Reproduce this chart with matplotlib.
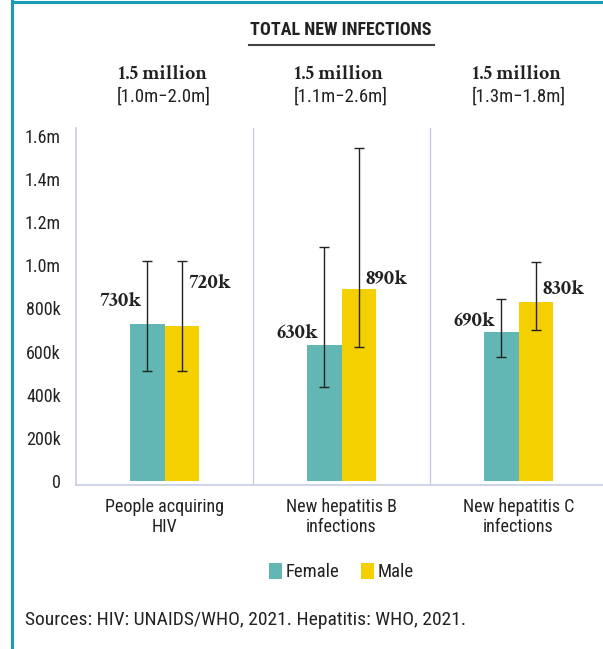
import matplotlib
matplotlib.use("Agg")
import matplotlib.pyplot as plt
import numpy as np
from matplotlib.lines import Line2D
from matplotlib.patches import Rectangle
from matplotlib import font_manager as fm
from matplotlib.font_manager import FontProperties

categories = ["People acquiring\nHIV", "New hepatitis B\ninfections", "New hepatitis C\ninfections"]
female = [730000, 630000, 690000]
male = [720000, 890000, 830000]
female_low = [510000, 435000, 575000]
female_high = [1020000, 1085000, 842000]
male_low = [510000, 623000, 698000]
male_high = [1020000, 1545000, 1015000]
female_labels = ["730k", "630k", "690k"]
male_labels = ["720k", "890k", "830k"]
totals = ["1.5 million", "1.5 million", "1.5 million"]
ranges = ["[1.0m\u22122.0m]", "[1.1m\u22122.6m]", "[1.3m\u22121.8m]"]
yticks = [0, 200000, 400000, 600000, 800000, 1000000, 1200000, 1400000, 1600000]
ytick_labels = ["0", "200k", "400k", "600k", "800k", "1.0m", "1.2m", "1.4m", "1.6m"]

TEAL = "#62b6b3"
YELLOW = "#f5d000"
GRID = "#c7cde0"
BORDER = "#1a9bb5"
TXT = "#222222"
COND = ["Roboto Condensed", "DejaVu Sans"]


def _w(v):
    if isinstance(v, (int, float)):
        return v
    return fm.weight_dict.get(v, 400)


def find_font(names, weight):
    for n in names:
        cands = [f for f in fm.fontManager.ttflist if f.name == n]
        if not cands:
            continue
        best = min(cands, key=lambda f: abs(_w(f.weight) - weight))
        if abs(_w(best.weight) - weight) <= 100:
            return best.fname
    return None


serif_path = find_font(["Merriweather", "Gelasio", "Crimson Text", "Alegreya", "DejaVu Serif"], 700)


def serif(size):
    if serif_path:
        return FontProperties(fname=serif_path, size=size)
    return FontProperties(family="DejaVu Serif", weight="bold", size=size)


W, H = 603, 649
fig = plt.figure(figsize=(W / 100, H / 100), dpi=100)


def fx(px):
    return px / W


def fy(py):
    return 1 - py / H


ax_left, ax_right, ax_top, ax_bot = 76, 607, 128, 485
ax = fig.add_axes([fx(ax_left), fy(ax_bot), fx(ax_right - ax_left), (ax_bot - ax_top) / H])

x = np.arange(len(categories))
bw = 0.195
ax.bar(x - bw / 2, female, width=bw, color=TEAL, zorder=2)
ax.bar(x + bw / 2, male, width=bw, color=YELLOW, zorder=2)

f = np.array(female); m = np.array(male)
ax.errorbar(x - bw / 2, f, yerr=[f - np.array(female_low), np.array(female_high) - f],
            fmt="none", ecolor="#222222", elinewidth=1.0, capsize=3.5, capthick=1.0, zorder=3)
ax.errorbar(x + bw / 2, m, yerr=[m - np.array(male_low), np.array(male_high) - m],
            fmt="none", ecolor="#222222", elinewidth=1.0, capsize=3.5, capthick=1.0, zorder=3)

ax.set_xlim(-0.5, 2.5)
ax.set_ylim(-19000, 1637000)
ax.set_yticks(yticks)
ax.set_yticklabels(ytick_labels, family=COND, fontsize=13, color=TXT)
ax.set_xticks(x)
ax.set_xticklabels(categories, family=COND, fontsize=13, color=TXT, linespacing=1.2)
ax.tick_params(axis="x", length=0, pad=9)
ax.tick_params(axis="y", length=0, pad=11)
for s in ["top", "right"]:
    ax.spines[s].set_visible(False)
for s in ["left", "bottom"]:
    ax.spines[s].set_color(GRID)
    ax.spines[s].set_linewidth(1.2)
for sep in [0.5, 1.5]:
    ax.axvline(sep, color=GRID, lw=1.0, zorder=1)

# value labels (offsets in points, style only)
f_dy = [16.5, 8.6, 8.0]
m_dy = [31.0, 7.6, 9.4]
for i in range(3):
    ax.annotate(female_labels[i], (x[i] - bw / 2, female[i]), xytext=(-4.5, f_dy[i]),
                textcoords="offset points", ha="right", va="center",
                fontproperties=serif(15), color=TXT)
    ax.annotate(male_labels[i], (x[i] + bw / 2, male[i]), xytext=(4.5, m_dy[i]),
                textcoords="offset points", ha="left", va="center",
                fontproperties=serif(15), color=TXT)

# header totals
centers_px = [162, 339, 517]
for i in range(3):
    fig.text(fx(centers_px[i]), fy(74), totals[i], ha="center", va="center",
             fontproperties=serif(14.3), color=TXT)
    fig.text(fx(centers_px[i] + 2), fy(97), ranges[i], ha="center", va="center",
             family=COND, fontsize=13.5, color=TXT)

# title with underline
fig.text(fx(341), fy(30), "TOTAL NEW INFECTIONS", ha="center", va="center",
         family=COND, fontweight="bold", fontsize=13, color=TXT)
fig.add_artist(Line2D([fx(249), fx(434)], [fy(45), fy(45)], color="#444444", lw=1.5))

# legend
for px, lab, col in [(269, "Female", TEAL), (361, "Male", YELLOW)]:
    fig.add_artist(Rectangle((fx(px), fy(579)), 13 / W, 16 / H, color=col, lw=0))
    fig.text(fx(px + 17), fy(572), lab, ha="left", va="center", family=COND,
             fontsize=13.5, color=TXT)

# source
fig.text(fx(25), fy(620), "Sources: HIV: UNAIDS/WHO, 2021. Hepatitis: WHO, 2021.",
         ha="left", va="center", family=COND, fontsize=14, color=TXT)

# border
fig.add_artist(Line2D([fx(12), 1], [fy(2), fy(2)], color=BORDER, lw=2.2))
fig.add_artist(Line2D([fx(12), fx(12)], [fy(1), 0], color=BORDER, lw=2.2))

fig.savefig("out.png", dpi=100)
